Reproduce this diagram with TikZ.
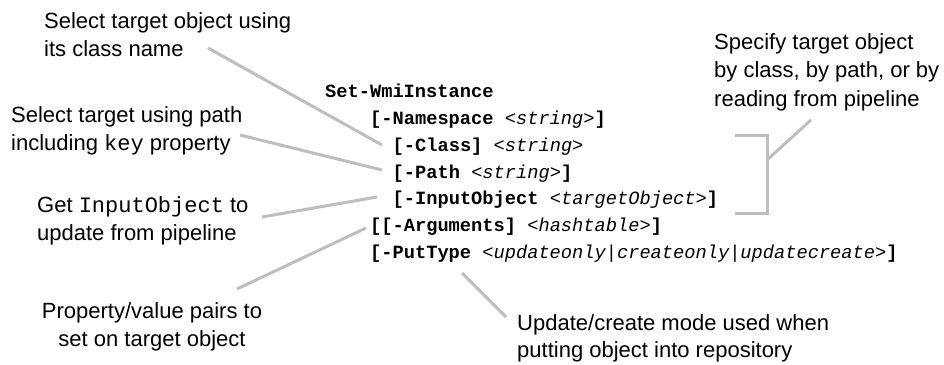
\documentclass[tikz,border=0pt]{standalone}
\usepackage{fontspec}
\setmainfont{Liberation Sans}
\setmonofont{Liberation Mono}
\definecolor{linegray}{HTML}{BEBEBE}
\newcommand{\cmdkw}[1]{{\bfseries #1}}
\newcommand{\cmdph}[1]{{\itshape #1}}
\begin{document}
\begin{tikzpicture}[x=1pt,y=-1pt,
  lbl/.style={font=\fontsize{22}{28}\selectfont, anchor=base west, inner sep=0pt},
  lblc/.style={font=\fontsize{22}{28}\selectfont, anchor=base, inner sep=0pt},
  code/.style={font=\ttfamily\fontsize{18.7}{26}\selectfont, anchor=base west, inner sep=0pt},
  conn/.style={draw=linegray, line width=3pt}]
\useasboundingbox (0,0) rectangle (944,364);
% labels
\node[lbl] (a1) at (44,28.3) {Select target object using};
\node[lbl] (a2) at (44,56) {its class name};
\node[lbl] (b1) at (11,122) {Select target using path};
\node[lbl] (b2) at (11,150) {including {\ttfamily key} property};
\node[lbl] (c1) at (37,212.7) {Get {\ttfamily InputObject} to};
\node[lbl] (c2) at (37,240.7) {update from pipeline};
\node[lblc] (d1) at (152,318) {Property/value pairs to};
\node[lblc] (d2) at (152,346.7) {set on target object};
\node[lbl] (e1) at (714,49) {Specify target object};
\node[lbl] (e2) at (714,77.5) {by class, by path, or by};
\node[lbl] (e3) at (714,106) {reading from pipeline};
\node[lbl] (f1) at (517,330) {Update/create mode used when};
\node[lbl] (f2) at (517,357) {putting object into repository};
% code
\node[code] (s0) at (325,97.5) {\cmdkw{Set-WmiInstance}};
\node[code] (s1) at (370,124.5) {\cmdkw{[-Namespace} \cmdph{<string>}\cmdkw{]}};
\node[code] (s2) at (392.5,151.3) {\cmdkw{[-Class]} \cmdph{<string>}};
\node[code] (s3) at (392.5,178) {\cmdkw{[-Path} \cmdph{<string>}\cmdkw{]}};
\node[code] (s4) at (392.5,204.6) {\cmdkw{[-InputObject} \cmdph{<targetObject>}\cmdkw{]}};
\node[code] (s5) at (370,231.3) {\cmdkw{[[-Arguments]} \cmdph{<hashtable>}\cmdkw{]}};
\node[code] (s6) at (370,258) {\cmdkw{[-PutType} \cmdph{<updateonly|createonly|updatecreate>}\cmdkw{]}};
% connector ends
\coordinate (p1s) at (208,48);  \coordinate (p1e) at (382,145);
\coordinate (p2s) at (240,135); \coordinate (p2e) at (382,170);
\coordinate (p3s) at (262,217); \coordinate (p3e) at (377,197);
\coordinate (p4s) at (237,289); \coordinate (p4e) at (366,228);
\coordinate (p5s) at (462,273); \coordinate (p5e) at (506,317);
\coordinate (bt) at (735,135); \coordinate (btr) at (767,135);
\coordinate (bbr) at (767,213); \coordinate (bb) at (735,213);
\coordinate (bm) at (767,160); \coordinate (bd) at (811,120);
\draw[conn] (p1s) -- (p1e);
\draw[conn] (p2s) -- (p2e);
\draw[conn] (p3s) -- (p3e);
\draw[conn] (p4s) -- (p4e);
\draw[conn] (p5s) -- (p5e);
\draw[conn] (bt) -- (btr) -- (bbr) -- (bb);
\draw[conn] (bm) -- (bd);
\end{tikzpicture}
\end{document}
